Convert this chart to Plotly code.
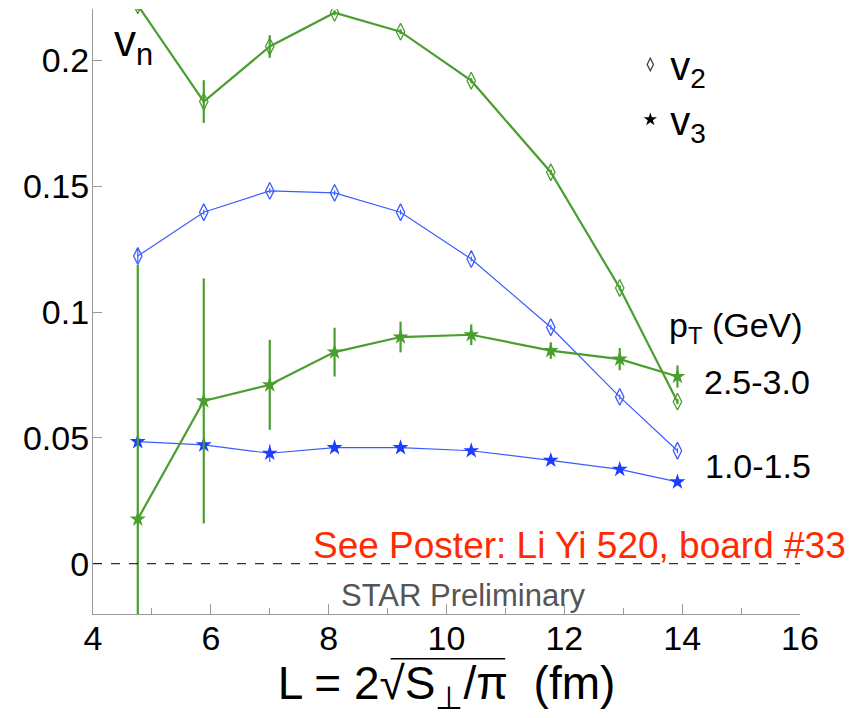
import plotly.graph_objects as go

# ---- data ----
L_fm = [4.76, 5.88, 7.00, 8.10, 9.22, 10.42, 11.77, 12.94, 13.92]

v2_high = [0.2220, 0.1837, 0.2056, 0.2190, 0.2115, 0.1920, 0.1556, 0.1096, 0.0644]
v2_high_err = [0.002, 0.0085, 0.0045, 0.001, 0.001, 0.001, 0.001, 0.001, 0.001]
v3_high = [0.0177, 0.0647, 0.0711, 0.0841, 0.0901, 0.0910, 0.0847, 0.0813, 0.0744]
v3_high_err = [0.101, 0.0487, 0.0179, 0.0097, 0.0061, 0.0041, 0.0033, 0.0044, 0.0044]

v2_low = [0.1223, 0.1397, 0.1482, 0.1474, 0.1397, 0.1211, 0.0940, 0.0663, 0.0449]
v2_low_err = [0.0025, 0.001, 0.001, 0.001, 0.001, 0.001, 0.001, 0.001, 0.001]
v3_low = [0.0485, 0.0472, 0.0439, 0.0461, 0.0461, 0.0449, 0.0411, 0.0375, 0.0325]
v3_low_err = [0.001, 0.001, 0.0035, 0.001, 0.001, 0.001, 0.001, 0.001, 0.001]

y_tickvals = [0, 0.05, 0.1, 0.15, 0.2]
y_ticktext = ["0", "0.05", "0.1", "0.15", "0.2"]
x_tickvals = [4, 6, 8, 10, 12, 14, 16]

GREEN = "#4a9e2f"
BLUE = "#3a5cff"
FONT = "Liberation Sans, Arial, Helvetica, sans-serif"

fig = go.Figure()

# 1.0-1.5 GeV (blue)
fig.add_trace(go.Scatter(
    x=L_fm, y=v2_low, mode="lines+markers", showlegend=False,
    line=dict(color=BLUE, width=1.2),
    marker=dict(symbol="diamond-tall-open", size=12, color=BLUE, line=dict(width=1.3)),
    error_y=dict(type="data", array=v2_low_err, color=BLUE, thickness=1.2, width=0)))
fig.add_trace(go.Scatter(
    x=L_fm, y=v3_low, mode="lines+markers", showlegend=False,
    line=dict(color=BLUE, width=1.2),
    marker=dict(symbol="star", size=12, color="#1f3dff"),
    error_y=dict(type="data", array=v3_low_err, color=BLUE, thickness=1.2, width=0)))

# 2.5-3.0 GeV (green)
fig.add_trace(go.Scatter(
    x=L_fm, y=v2_high, mode="lines+markers", showlegend=False,
    line=dict(color=GREEN, width=2.2),
    marker=dict(symbol="diamond-tall-open", size=12, color=GREEN, line=dict(width=1.3)),
    error_y=dict(type="data", array=v2_high_err, color=GREEN, thickness=2.2, width=0)))
fig.add_trace(go.Scatter(
    x=L_fm, y=v3_high, mode="lines+markers", showlegend=False,
    line=dict(color=GREEN, width=2.2),
    marker=dict(symbol="star", size=12, color=GREEN),
    error_y=dict(type="data", array=v3_high_err, color=GREEN, thickness=2.2, width=0)))

# legend entries (symbol key)
fig.add_trace(go.Scatter(x=[None], y=[None], mode="markers", name="v<sub>2</sub>",
                         marker=dict(symbol="diamond-tall-open", size=9, color="#444",
                                     line=dict(width=1.3))))
fig.add_trace(go.Scatter(x=[None], y=[None], mode="markers", name="v<sub>3</sub>",
                         marker=dict(symbol="star", size=10, color="black")))

fig.add_hline(y=0, line=dict(color="black", width=1, dash="dash"))

fig.update_layout(
    width=857, height=718,
    margin=dict(l=93, r=57, t=9, b=104),
    paper_bgcolor="white", plot_bgcolor="white",
    font=dict(family=FONT, size=34, color="black"),
    showlegend=True,
    legend=dict(x=0.76, y=0.962, xanchor="left", yanchor="top",
                font=dict(size=40), bgcolor="rgba(0,0,0,0)",
                itemwidth=30, tracegroupgap=4),
    xaxis=dict(range=[4, 16], tickvals=x_tickvals, showgrid=False, zeroline=False,
               showline=True, linecolor="#999", linewidth=1.2,
               ticks="inside", ticklen=10, tickcolor="#999",
               minor=dict(dtick=1, ticks="inside", ticklen=6, tickcolor="#999"),
               tickfont=dict(size=34), ticklabelstandoff=-6,
               title=dict(text="L = 2√S<sub>⊥</sub>/π  (fm)",
                          font=dict(size=46), standoff=10)),
    yaxis=dict(range=[-0.02, 0.2205], tickvals=y_tickvals, ticktext=y_ticktext,
               showgrid=False, zeroline=False,
               showline=True, linecolor="#999", linewidth=1.2,
               ticks="inside", ticklen=9, tickcolor="#999",
               tickfont=dict(size=34), ticklabelstandoff=-4),
)

# overline of the square root in the axis title
fig.add_shape(type="line", xref="paper", yref="paper",
              x0=0.421, x1=0.583, y0=-0.074, y1=-0.074,
              line=dict(color="black", width=1.5))

fig.add_annotation(x=4.33, y=0.2065, xref="x", yref="y", text="v<sub>n</sub>",
                   showarrow=False, xanchor="left", yanchor="middle", font=dict(size=44))
fig.add_annotation(x=13.75, y=0.0937, xref="x", yref="y", text="p<sub>T</sub> (GeV)",
                   showarrow=False, xanchor="left", yanchor="middle", font=dict(size=34))
fig.add_annotation(x=14.33, y=0.0722, xref="x", yref="y", text="2.5-3.0",
                   showarrow=False, xanchor="left", yanchor="middle", font=dict(size=34))
fig.add_annotation(x=14.36, y=0.0388, xref="x", yref="y", text="1.0-1.5",
                   showarrow=False, xanchor="left", yanchor="middle", font=dict(size=34))
fig.add_annotation(x=1.068, y=0.0074, xref="paper", yref="y", text="See Poster: Li Yi 520, board #33",
                   showarrow=False, xanchor="right", yanchor="middle",
                   font=dict(size=37, color="#ff2a00"))
fig.add_annotation(x=10.28, y=-0.0125, xref="x", yref="y", text="STAR Preliminary",
                   showarrow=False, xanchor="center", yanchor="middle",
                   font=dict(size=31, color="#555555"))

fig.write_html("out.html")
